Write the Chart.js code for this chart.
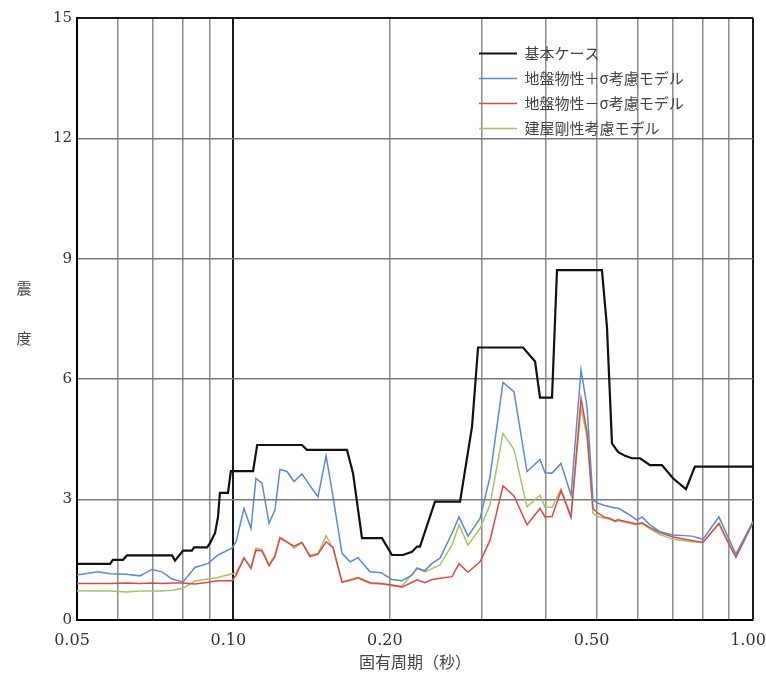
<!DOCTYPE html>
<html lang="ja">
<head>
<meta charset="UTF-8">
<script src="https://cdn.jsdelivr.net/npm/chart.js"></script>
<title>震度</title>
<style>
  body { margin: 0; background: #fff; }
  #wrap { width: 766px; height: 679px; }
</style>
</head>
<body>
<div id="wrap"><canvas id="myChart"></canvas></div>
<script>
// 基本ケース
const basePeriods = [0.050, 0.0579, 0.0586, 0.0613, 0.0624, 0.0762, 0.0772, 0.0800, 0.0832, 0.0840,
  0.0890, 0.0901, 0.0922, 0.0934, 0.0942, 0.0976, 0.0989, 0.1091, 0.1111, 0.1355,
  0.1385, 0.1654, 0.1699, 0.1768, 0.1932, 0.2019, 0.2121, 0.2207, 0.2256, 0.2286,
  0.2443, 0.2730, 0.2879, 0.2957, 0.3609, 0.3807, 0.3891, 0.4104, 0.4195, 0.5120,
  0.5235, 0.5353, 0.5498, 0.5671, 0.5848, 0.6062, 0.6334, 0.668, 0.7015, 0.743,
  0.773, 1.00];
const baseValues = [1.40, 1.40, 1.50, 1.50, 1.61, 1.61, 1.48, 1.73, 1.73, 1.81,
  1.81, 1.91, 2.17, 2.57, 3.17, 3.17, 3.71, 3.71, 4.36, 4.36,
  4.24, 4.24, 3.66, 2.04, 2.04, 1.62, 1.62, 1.70, 1.83, 1.83,
  2.95, 2.95, 4.82, 6.79, 6.79, 6.44, 5.54, 5.54, 8.72, 8.72,
  7.31, 4.40, 4.19, 4.09, 4.03, 4.03, 3.86, 3.86, 3.53, 3.26,
  3.82, 3.82];

// other three models share one period list
const periods = [0.0500, 0.0549, 0.0579, 0.0621, 0.0661, 0.0697, 0.0729, 0.0762, 0.0800, 0.0843,
  0.0894, 0.0934, 0.0994, 0.1012, 0.1048, 0.1081, 0.1105, 0.1135, 0.1171, 0.1202,
  0.1229, 0.1268, 0.1308, 0.1355, 0.1404, 0.1455, 0.1508, 0.1555, 0.1618, 0.1677,
  0.1737, 0.1832, 0.1923, 0.2019, 0.2111, 0.2207, 0.2256, 0.2337, 0.2411, 0.2498,
  0.2635, 0.2718, 0.2828, 0.2983, 0.3118, 0.3302, 0.3467, 0.3673, 0.3891, 0.3978,
  0.4104, 0.4271, 0.4464, 0.4667, 0.4792, 0.4921, 0.5031, 0.5166, 0.5306, 0.5425,
  0.5498, 0.5721, 0.5981, 0.6114, 0.6334, 0.6622, 0.7015, 0.763, 0.801, 0.860,
  0.891, 0.927, 1.000];
const plusSigmaValues = [1.12, 1.20, 1.15, 1.14, 1.10, 1.26, 1.20, 1.02, 0.95, 1.31,
  1.41, 1.62, 1.79, 1.95, 2.78, 2.28, 3.53, 3.41, 2.41, 2.74,
  3.75, 3.70, 3.45, 3.64, 3.35, 3.07, 4.09, 3.07, 1.66, 1.45,
  1.55, 1.20, 1.18, 1.01, 0.98, 1.12, 1.29, 1.23, 1.41, 1.54,
  2.16, 2.57, 2.09, 2.53, 3.57, 5.92, 5.69, 3.70, 4.00, 3.67,
  3.66, 3.90, 3.11, 6.23, 5.32, 2.99, 2.91, 2.86, 2.82, 2.79,
  2.79, 2.66, 2.49, 2.57, 2.37, 2.20, 2.12, 2.09, 2.01, 2.57,
  2.12, 1.64, 2.45];
const minusSigmaValues = [0.91, 0.91, 0.91, 0.92, 0.91, 0.92, 0.91, 0.92, 0.92, 0.90,
  0.94, 0.98, 0.98, 1.12, 1.54, 1.29, 1.74, 1.72, 1.35, 1.58,
  2.04, 1.94, 1.84, 1.93, 1.58, 1.64, 1.95, 1.81, 0.95, 1.00,
  1.06, 0.93, 0.91, 0.87, 0.82, 0.94, 1.00, 0.93, 1.01, 1.04,
  1.08, 1.40, 1.19, 1.45, 1.99, 3.34, 3.09, 2.37, 2.78, 2.57,
  2.58, 3.22, 2.56, 5.52, 4.69, 2.78, 2.66, 2.57, 2.53, 2.47,
  2.50, 2.45, 2.39, 2.42, 2.30, 2.18, 2.07, 1.98, 1.93, 2.41,
  2.00, 1.56, 2.42];
const buildingValues = [0.73, 0.72, 0.72, 0.70, 0.72, 0.72, 0.72, 0.74, 0.79, 0.97,
  1.02, 1.06, 1.15, 1.16, 1.56, 1.29, 1.79, 1.76, 1.38, 1.62,
  2.06, 1.96, 1.79, 1.93, 1.62, 1.66, 2.10, 1.79, 0.94, 0.98,
  1.04, 0.91, 0.90, 0.85, 0.85, 1.14, 1.29, 1.20, 1.28, 1.37,
  1.87, 2.37, 1.87, 2.28, 2.87, 4.65, 4.25, 2.82, 3.11, 2.81,
  2.81, 3.26, 2.59, 5.28, 4.57, 2.66, 2.57, 2.54, 2.51, 2.45,
  2.47, 2.42, 2.37, 2.41, 2.27, 2.13, 2.01, 1.95, 1.93, 2.39,
  1.98, 1.58, 2.45];

const seriesNames = ['基本ケース', '地盤物性＋σ考慮モデル', '地盤物性－σ考慮モデル', '建屋剛性考慮モデル'];

// axes
const gridPeriods = [0.05, 0.06, 0.07, 0.08, 0.09, 0.1, 0.2, 0.3, 0.4, 0.5, 0.6, 0.7, 0.8, 0.9, 1.0];
const labeledPeriods = [0.05, 0.1, 0.2, 0.5, 1.0];
const periodLabels = ['0.05', '0.10', '0.20', '0.50', '1.00'];
const xTitle = '固有周期（秒）';
const yTitleChars = ['震', '度'];

function pairs(xs, ys) {
  return xs.map((x, i) => ({ x: x, y: ys[i] }));
}

// vertical y title, one character under the other
const yTitlePlugin = {
  id: 'yTitle',
  afterDraw(chart) {
    const { ctx, chartArea } = chart;
    const mid = (chartArea.top + chartArea.bottom) / 2;
    ctx.save();
    ctx.font = '15px "Noto Sans CJK JP"';
    ctx.fillStyle = '#444';
    ctx.textAlign = 'center';
    ctx.textBaseline = 'middle';
    yTitleChars.forEach((c, i) => ctx.fillText(c, chartArea.left - 53, mid - 31 + i * 50));
    ctx.restore();
  }
};

// legend sits inside the plot, top right
const legendPlace = {
  id: 'legendPlace',
  afterLayout(chart) {
    const a = chart.chartArea;
    chart.legend.left = a.right - 284;
    chart.legend.top = a.top + 18;
  }
};

const ctx = document.getElementById('myChart');
const chart = new Chart(ctx, {
  type: 'line',
  data: {
    datasets: [
      { label: seriesNames[0], data: pairs(basePeriods, baseValues), borderColor: '#111', borderWidth: 2.2 },
      { label: seriesNames[1], data: pairs(periods, plusSigmaValues), borderColor: '#5a8bd3', borderWidth: 1.5 },
      { label: seriesNames[2], data: pairs(periods, minusSigmaValues), borderColor: '#e0474a', borderWidth: 1.5 },
      { label: seriesNames[3], data: pairs(periods, buildingValues), borderColor: '#a3c663', borderWidth: 1.5 }
    ]
  },
  options: {
    responsive: true,
    maintainAspectRatio: false,
    animation: false,
    layout: { padding: { top: 18, right: 13, left: 0, bottom: 0 } },
    elements: { point: { radius: 0 }, line: { tension: 0 } },
    plugins: {
      tooltip: { enabled: false },
      legend: {
        position: 'chartArea',
        align: 'start',
        labels: {
          usePointStyle: true,
          pointStyle: 'line',
          pointStyleWidth: 38,
          padding: 10,
          color: '#444',
          font: { family: '"Noto Sans CJK JP"', size: 15 }
        }
      }
    },
    scales: {
      x: {
        type: 'logarithmic',
        min: 0.05,
        max: 1.0,
        afterBuildTicks: (scale) => { scale.ticks = gridPeriods.map(v => ({ value: v })); },
        afterFit: (scale) => { scale.height = 59; scale.paddingRight = 0; },
        border: { color: '#000', width: 2 },
        grid: {
          drawTicks: false,
          color: (c) => (c.tick.value === 0.1 || c.tick.value === 1.0) ? '#1a1a1a' : '#8c8c8c',
          lineWidth: (c) => (c.tick.value === 0.1 || c.tick.value === 1.0) ? 2 : 1.5
        },
        ticks: {
          autoSkip: false,
          maxRotation: 0,
          padding: 11,
          labelOffset: -5,
          color: '#333',
          font: { family: '"DejaVu Serif"', size: 16 },
          callback: (v) => {
            const i = labeledPeriods.indexOf(v);
            return i >= 0 ? periodLabels[i] : '';
          }
        },
        title: {
          display: true,
          text: xTitle,
          color: '#444',
          font: { family: '"Noto Sans CJK JP"', size: 16 },
          padding: { top: 2, bottom: 7 }
        }
      },
      y: {
        min: 0,
        max: 15,
        afterFit: (scale) => { scale.width = 77; },
        border: { color: '#000', width: 2 },
        grid: {
          drawTicks: false,
          color: (c) => c.tick.value === 15 ? '#1a1a1a' : '#7a7a7a',
          lineWidth: (c) => c.tick.value === 15 ? 2 : 1.5
        },
        ticks: {
          stepSize: 3,
          padding: 5,
          color: '#333',
          font: { family: '"DejaVu Serif"', size: 15 }
        }
      }
    }
  },
  plugins: [yTitlePlugin, legendPlace]
});
</script>
</body>
</html>
